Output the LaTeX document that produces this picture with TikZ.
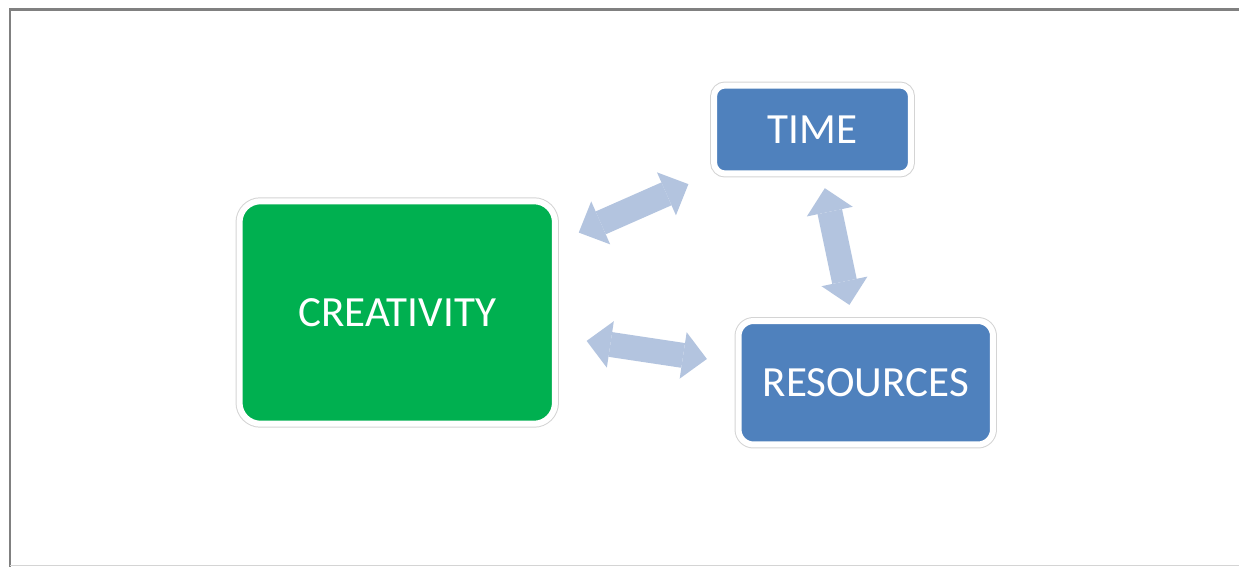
\documentclass[tikz,border=0pt]{standalone}
\usepackage{fontspec}
\setmainfont{Carlito}
\usetikzlibrary{arrows.meta}
\definecolor{creativityGreen}{RGB}{0,176,80}
\definecolor{boxBlue}{RGB}{79,129,189}
\definecolor{linkBlue}{RGB}{179,196,223}
\definecolor{rimGray}{RGB}{212,212,212}
\definecolor{frameGray}{RGB}{128,128,128}
\begin{document}
\begin{tikzpicture}[x = 0.02cm, y = -0.02cm, > = {Triangle[width = 0.94cm, length = 0.48cm, line width = 0pt]}, font = \fontsize{24.5}{29}\selectfont]
\tikzset{
  block/.style = {rectangle, text = white, inner sep = 0pt, outer sep = 0pt, draw = white, line width = 0.12cm, preaction = {draw = rimGray, line width = 0.16cm}},
  link/.style = {draw = linkBlue, line width = 0.5cm, <->},
}
\useasboundingbox (0,0) rectangle (1239,567);
% frame
\draw [frameGray, line width = 0.06cm] (1239,10) -- (10,10) -- (10,567);
\draw [rimGray, line width = 0.03cm] (10,565.5) -- (1239,565.5);
% boxes
\node [block, fill = creativityGreen, minimum width = 6.31cm, minimum height = 4.45cm, rounded corners = 0.42cm] (creativity) at (397.25,312.5) {CREATIVITY};
\node [block, fill = boxBlue, minimum width = 3.94cm, minimum height = 1.76cm, rounded corners = 0.22cm] (time) at (812.5,129.5) {TIME};
\node [block, fill = boxBlue, minimum width = 5.09cm, minimum height = 2.47cm, rounded corners = 0.3cm] (resources) at (865.75,382.75) {RESOURCES};
% links
\draw [link, shorten <= 0.52cm, shorten >= 0.56cm] (creativity) -- (time);
\draw [link, shorten <= 0.64cm, shorten >= 0.64cm] (creativity) -- (resources);
\draw [link, shorten <= 0.30cm, shorten >= 0.33cm] (time) -- (resources);
\end{tikzpicture}
\end{document}
